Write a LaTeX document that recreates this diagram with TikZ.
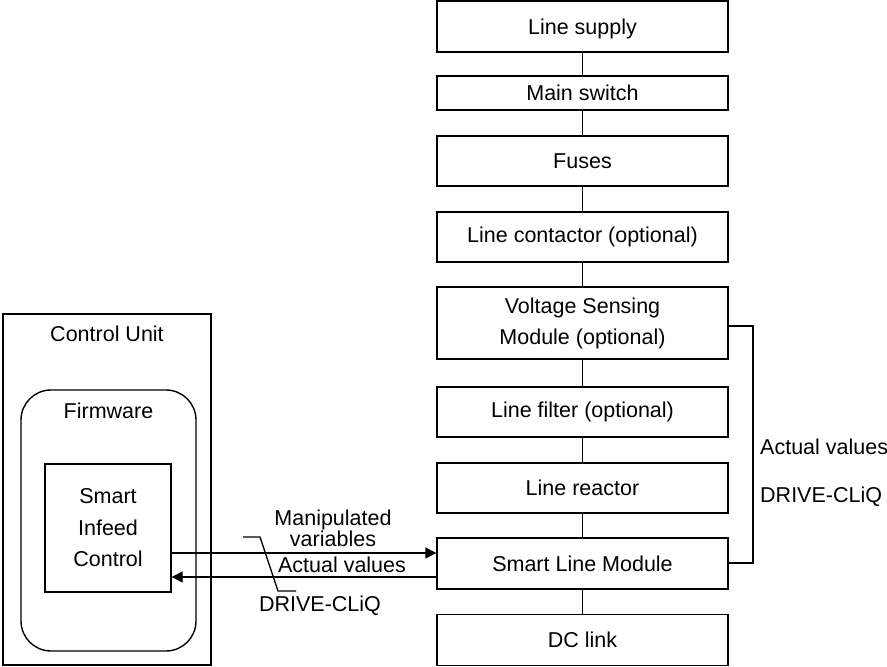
\documentclass[tikz,border=0pt]{standalone}
\usepackage{fontspec}
\setmainfont{Liberation Sans}
\usetikzlibrary{arrows.meta}
\tikzset{
  every node/.style={font=\fontsize{21.5}{25}\selectfont},
  blk/.style={draw, line width=1.4pt, minimum width=291pt, inner sep=0pt, align=center},
  conn/.style={line width=1.4pt},
  arr/.style={line width=1.4pt, -{Triangle[length=11pt,width=11pt]}},
  lbl/.style={inner sep=0pt, align=center},
}
\begin{document}
\begin{tikzpicture}[x=1pt,y=-1pt]
\useasboundingbox (0,0) rectangle (887,667);
% right column
\node[blk, minimum height=51pt, text depth=0pt] (sup) at (582.5,26.5) {Line supply};
\node[blk, minimum height=34pt] (sw) at (582.5,93) {Main switch};
\node[blk, minimum height=50pt] (fus) at (582.5,161) {Fuses};
\node[blk, minimum height=50pt] (con) at (582.5,237) {Line contactor (optional)};
\node[blk, minimum height=72pt, font=\fontsize{21.5}{31}\selectfont] (vsm) at (582.5,323) {Voltage Sensing\\Module (optional)};
\node[blk, minimum height=50pt] (fil) at (582.5,412) {Line filter (optional)};
\node[blk, minimum height=50pt] (rea) at (582.5,488) {Line reactor};
\node[blk, minimum height=51pt] (slm) at (582.5,563.5) {Smart Line Module};
\node[blk, minimum height=51pt] (dcl) at (582.5,640) {DC link};
\draw[conn] (sup) -- (sw);
\draw[conn] (sw) -- (fus);
\draw[conn] (fus) -- (con);
\draw[conn] (con) -- (vsm);
\draw[conn] (vsm) -- (fil);
\draw[conn] (fil) -- (rea);
\draw[conn] (rea) -- (slm);
\draw[conn] (slm) -- (dcl);
% right bracket
\coordinate (b1) at (753,326);
\coordinate (b2) at (753,563);
\draw[conn] (vsm.east |- b1) -- (b1) -- (b2) -- (slm.east |- b2);
\node[lbl, anchor=west] (av2) at (760,447) {Actual values};
\node[lbl, anchor=west] (dq2) at (760,497) {DRIVE-CLiQ};
% left side
\node[draw, line width=1.4pt, minimum width=208pt, minimum height=351pt, inner sep=0pt] (cu) at (107,489.5) {};
\node[lbl] (cut) at (107,334) {Control Unit};
\node[draw, line width=1.4pt, rounded corners=30pt, minimum width=175pt, minimum height=261pt, inner sep=0pt] (fw) at (108.5,520.5) {};
\node[lbl] (fwt) at (108.5,411) {Firmware};
\node[blk, minimum width=126pt, minimum height=128pt, font=\fontsize{21.5}{31.5}\selectfont] (sic) at (108,528) {Smart\\Infeed\\Control};
% arrows
\coordinate (y1) at (0,553);
\coordinate (y2) at (0,577);
\draw[arr] (sic.east |- y1) -- (slm.west |- y1);
\draw[arr] (slm.west |- y2) -- (sic.east |- y2);
\node[lbl, font=\fontsize{21.5}{21}\selectfont] (mv) at (333,528) {Manipulated\\variables};
\node[lbl] (av1) at (342,565) {Actual values};
\node[lbl] (dq1) at (320,606) {DRIVE-CLiQ};
\coordinate (l1) at (243,537);
\coordinate (l2) at (260,537);
\coordinate (l3) at (278,591);
\coordinate (l4) at (296,591);
\draw[line width=1.4pt] (l1) -- (l2) -- (l3) -- (l4);
\end{tikzpicture}
\end{document}
